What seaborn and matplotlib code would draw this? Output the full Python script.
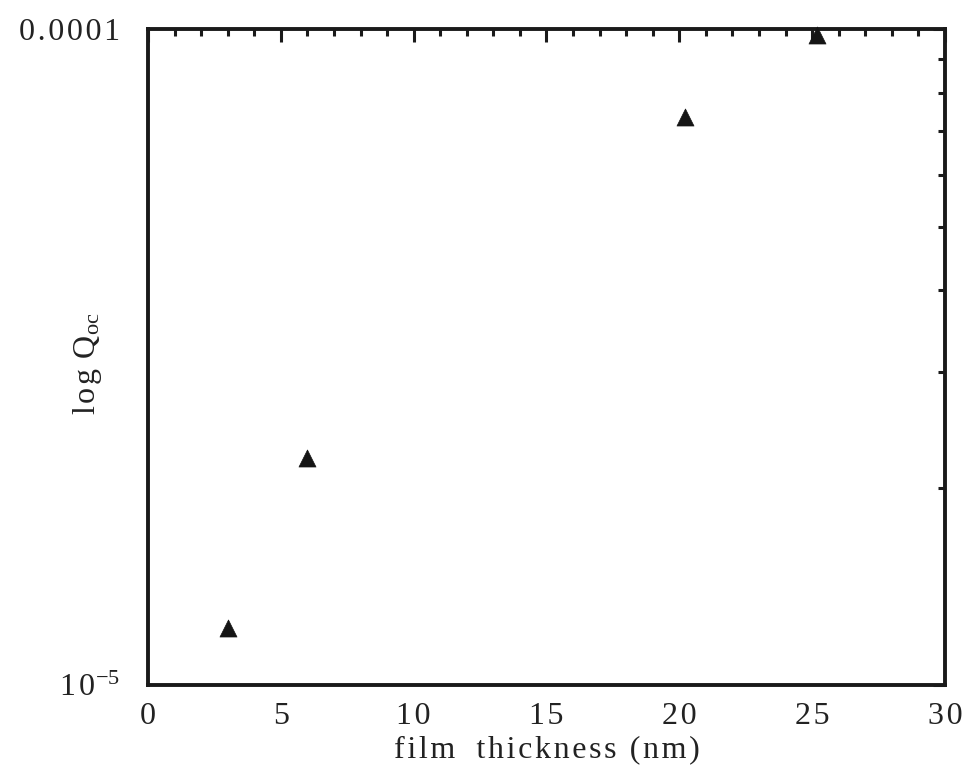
import matplotlib
matplotlib.use("Agg")
import matplotlib.pyplot as plt
import matplotlib.ticker as mticker
import seaborn as sns
import pandas as pd

# measured open-circuit charge vs. film thickness
thickness_nm = [3.0, 6.0, 20.2, 25.2]
q_oc = [1.22e-5, 2.22e-5, 7.34e-5, 9.79e-5]

x_ticks = [0, 5, 10, 15, 20, 25, 30]
y_ticks = [1e-5, 1e-4]

HAIR = "\u200a"
EN = "\u2002"


def tracked(text, sep):
    """Spread characters out with extra letter spacing."""
    return sep.join(text)


x_tick_labels = [tracked(str(t), HAIR) for t in x_ticks]
y_tick_labels = [r"$\mathrm{1\,0}^{\mathrm{-5}}$", tracked("0.0001", HAIR)]
x_label = tracked("film" + EN + "thickness (nm)", HAIR)
y_label = r"l" + HAIR + "o" + HAIR + "g" + HAIR + " Q$_{\\mathrm{oc}}$"

sns.set_theme(style="white")
plt.rcParams["font.family"] = ["Liberation Serif", "DejaVu Serif"]
plt.rcParams["mathtext.fontset"] = "custom"
plt.rcParams["mathtext.rm"] = "Liberation Serif"
plt.rcParams["mathtext.it"] = "Liberation Serif:italic"

df = pd.DataFrame({"thickness": thickness_nm, "q": q_oc})

fig = plt.figure(figsize=(9.64, 7.71), dpi=100)
ax = fig.add_axes([0.1535, 0.1115, 0.8268, 0.8508])

sns.scatterplot(data=df, x="thickness", y="q", marker="^", s=150,
                color="#151515", edgecolor="#151515", linewidth=0.5,
                ax=ax, zorder=5, clip_on=False)

ax.set_yscale("log")
ax.set_xlim(0, 30)
ax.set_ylim(1e-5, 1e-4)

ax.set_xticks(x_ticks)
ax.set_xticklabels(x_tick_labels)
ax.xaxis.set_minor_locator(mticker.MultipleLocator(1))
ax.set_yticks(y_ticks)
ax.set_yticklabels(y_tick_labels)
ax.yaxis.set_minor_locator(mticker.LogLocator(base=10, subs=range(2, 10)))
ax.yaxis.set_minor_formatter(mticker.NullFormatter())

ax.tick_params(which="both", direction="in", top=True, right=True,
               color="#1a1a1a", width=2.2)
ax.tick_params(which="major", length=9, labelsize=23, pad=12)
ax.tick_params(which="minor", length=5)
ax.tick_params(axis="y", which="major", pad=20)
for lbl in ax.get_yticklabels():
    lbl.set_verticalalignment("center_baseline")

for sp in ax.spines.values():
    sp.set_linewidth(2.8)
    sp.set_color("#1a1a1a")

ax.set_xlabel(x_label, fontsize=23, labelpad=3, color="#222222")
ax.set_ylabel(y_label, fontsize=23, color="#222222")
ax.yaxis.set_label_coords(-0.055, 0.49)
for lbl in ax.get_xticklabels() + ax.get_yticklabels():
    lbl.set_color("#222222")

fig.savefig("out.png", dpi=100, facecolor="white")
